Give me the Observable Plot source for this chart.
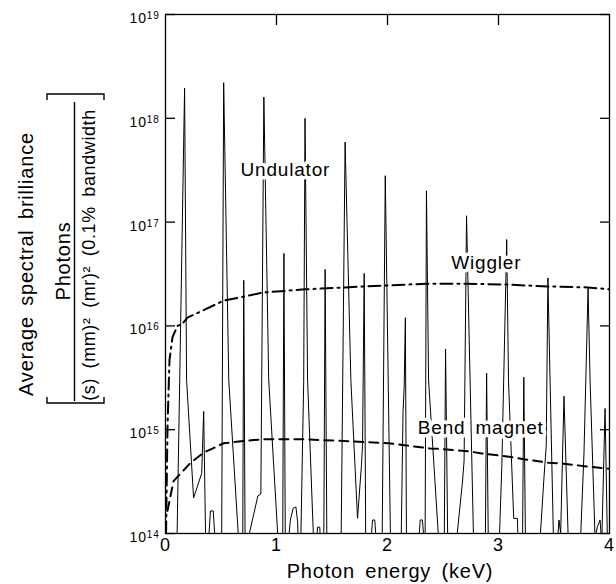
<!DOCTYPE html>
<html><head><meta charset="utf-8">
<script src="https://cdn.jsdelivr.net/npm/d3@7"></script>
<script src="https://cdn.jsdelivr.net/npm/@observablehq/plot@0.6"></script>
<style>body{margin:0;background:#fff;}</style>
</head><body><div id="chart"></div>
<script>
// ---- data ----
// Undulator spectrum: photon energy (keV) and brilliance
const undE = [0.10,0.172,0.19,0.253,0.326,0.344,0.365,0.38,0.405,0.43,0.455,
  0.505,0.524,0.57,0.655,0.665,0.695,0.705,0.718,0.735,0.832,0.859,
  0.886,0.93,1.013,1.03,1.055,1.067,1.08,1.105,1.125,1.15,1.175,1.19,1.20,
  1.215,1.245,1.257,1.28,1.335,1.345,1.37,1.39,1.40,1.425,1.438,1.455,
  1.58,1.618,1.67,1.73,1.765,1.775,1.79,1.805,1.85,1.865,1.885,1.90,
  1.95,1.98,2.03,2.12,2.14,2.15,2.161,2.172,2.28,2.295,2.315,2.33,
  2.338,2.351,2.37,2.46,2.47,2.51,2.523,2.545,2.60,2.676,2.69,2.712,2.78,
  2.88,2.893,2.91,3.00,3.03,3.074,3.09,3.137,3.17,3.183,3.215,3.228,3.245,
  3.36,3.41,3.43,3.445,3.50,3.53,3.545,3.56,3.59,3.635,
  3.73,3.77,3.807,3.825,3.87,3.89,3.915,3.93,3.96,3.985];
const undB = [5e13,1.95e18,3e15,2.2e14,3.8e14,1.5e15,5e13,6.3e13,1.65e14,1.65e14,6.3e13,
  5e13,2.2e18,3e15,1e14,5e13,5e13,2.75e16,5e13,8e13,2.3e14,2.4e14,
  1.6e18,3e15,9e13,5e13,5e13,5e16,5e13,8e13,1.35e14,1.75e14,1.8e14,1.3e14,6e13,
  5e13,2.9e15,1e18,3e15,8e13,5e13,1.15e14,1.15e14,6e13,5e13,3.5e16,5e13,
  5e13,5.9e17,3e15,1.4e14,4.5e14,7e14,3.2e16,5e13,8e13,1.35e14,1.35e14,8e13,
  5e13,2.8e17,5e13,5e13,1.5e15,2.5e15,1.2e16,5e13,8e13,1.35e14,1.35e14,8e13,
  5e13,2e17,3e15,9e13,5e13,5e13,6e15,5e13,5e13,3.2e14,5e14,1.15e17,5e13,
  5e13,3.5e15,5e13,5e13,4.5e14,6.8e16,3e15,1.4e14,1.4e14,5e13,5e13,3.2e15,5e13,
  5e13,3.5e14,7e14,2.9e16,5e13,8e13,1.35e14,1e14,2.1e15,5e13,
  5e13,5.9e14,2.3e16,3e15,9e13,1.15e14,1.35e14,8e13,1.6e15,5e13];

// Wiggler curve
const wigE = [0.005,0.018,0.036,0.063,0.108,0.153,0.198,0.524,0.886,1.257,1.618,1.98,2.351,2.712,3.074,3.445,3.807,4.0];
const wigB = [1e14,1.05e15,4.7e15,7.8e15,1e16,1.05e16,1.2e16,1.75e16,2.1e16,2.25e16,2.35e16,2.45e16,2.55e16,2.55e16,2.5e16,2.4e16,2.35e16,2.25e16];

// Bend magnet curve
const bendE = [0.018,0.072,0.226,0.344,0.524,0.705,0.886,1.067,1.248,1.429,1.609,1.79,2.007,2.152,2.378,2.505,2.731,2.848,3.092,3.228,3.454,3.59,3.816,4.0];
const bendB = [1.65e14,3.2e14,4.8e14,6e14,7.4e14,7.8e14,8.1e14,8.1e14,8.1e14,7.9e14,7.8e14,7.6e14,7.4e14,7.1e14,6.6e14,6.5e14,6.2e14,5.9e14,5.5e14,5.2e14,4.8e14,4.7e14,4.4e14,4.2e14];

// Curve labels
const labelText = ["Undulator", "Wiggler", "Bend magnet"];
const labelE = [1.08, 2.89, 2.84];
const labelB = [3.2e17, 4e16, 1.05e15];

// Axis ticks
const xTicks = [0, 1, 2, 3, 4];
const xTopTicks = [1, 2, 3];
const yTicks = [1e14, 1e15, 1e16, 1e17, 1e18, 1e19];

const xTitle = "Photon energy (keV)";
const yTitle = "Average spectral brilliance";
const yUnitNum = "Photons";
const yUnitDen = "(s) (mm)\u00B2 (mr)\u00B2 (0.1% bandwidth";

// ---- build tables ----
const undulator = undE.map((e, i) => ({e, b: undB[i]}));
const wiggler = wigE.map((e, i) => ({e, b: wigB[i]}));
const bend = bendE.map((e, i) => ({e, b: bendB[i]}));
const labels = labelText.map((t, i) => ({t, e: labelE[i], b: labelB[i]}));

const FONT = "'Liberation Sans', Arial, Helvetica, sans-serif";
const TICK = 10;

const svg = Plot.plot({
  width: 616, height: 584,
  marginLeft: 165, marginRight: 7, marginTop: 14, marginBottom: 51,
  style: {fontFamily: FONT, background: "white", color: "black", letterSpacing: "0.8px", wordSpacing: "4px", overflow: "visible"},
  x: {domain: [0, 4]},
  y: {type: "log", domain: [1e14, 1e19]},
  marks: [
    Plot.line(undulator, {x: "e", y: "b", stroke: "black", strokeWidth: 1, clip: true}),
    Plot.line(wiggler, {x: "e", y: "b", stroke: "black", strokeWidth: 2, strokeDasharray: "12,5,2,5", clip: true}),
    Plot.line(bend, {x: "e", y: "b", stroke: "black", strokeWidth: 2, strokeDasharray: "9,6", clip: true}),
    Plot.text(labels, {x: "e", y: "b", text: "t", fontSize: 19, fill: "black", stroke: "white", strokeWidth: 7}),
    Plot.frame({stroke: "black", strokeWidth: 1.3}),
    // inward tick marks (drawn outward, then shifted inside the frame)
    Plot.axisY({anchor: "left", ticks: yTicks, tickSize: TICK, dx: TICK, strokeWidth: 1.3, label: null, tickFormat: () => ""}),
    Plot.axisY({anchor: "right", ticks: yTicks, tickSize: TICK, dx: -TICK, strokeWidth: 1.3, label: null, tickFormat: () => ""}),
    Plot.axisX({anchor: "top", ticks: xTopTicks, tickSize: TICK, dy: TICK, strokeWidth: 1.3, label: null, tickFormat: () => ""}),
    // tick labels
    Plot.axisY({anchor: "left", ticks: yTicks, tickSize: 0, tickPadding: 6, dy: 4, fontSize: 14, label: null,
      tickFormat: d => "10^" + Math.round(Math.log10(d))}),
    Plot.axisX({anchor: "bottom", ticks: xTicks, tickSize: 0, tickPadding: 5, fontSize: 18, label: null, tickFormat: d => String(d)})
  ]
});
document.getElementById("chart").append(svg);

// superscript exponents on y tick labels
const s = d3.select(svg);
s.selectAll("text").each(function() {
  const t = this.textContent;
  if (/^10\^\d+$/.test(t)) {
    const p = t.split("^")[1];
    const el = d3.select(this);
    el.text("10");
    el.append("tspan").attr("dy", "-0.4em").attr("font-size", 10).text(p);
  }
});

// axis titles
const g = s.append("g").attr("font-family", FONT).attr("fill", "black");
g.append("text").attr("x", 390).attr("y", 578).attr("text-anchor", "middle")
  .attr("font-size", 20).text(xTitle);
function vtext(x, y, str, size, ls) {
  g.append("text").attr("transform", `translate(${x},${y}) rotate(-90)`)
    .attr("text-anchor", "middle").attr("dominant-baseline", "central")
    .attr("font-size", size).attr("letter-spacing", ls).text(str);
}
vtext(26, 264, yTitle, 20, "0.8px");
vtext(63, 261, yUnitNum, 20, "0.8px");
vtext(89, 255, yUnitDen, 18, "0.6px");
g.append("path").attr("fill", "none").attr("stroke", "black").attr("stroke-width", 1.4)
  .attr("d", "M47,100 V94 H104 V100 M47,397 V403 H104 V397 M74.5,102 V401");
</script></body></html>
